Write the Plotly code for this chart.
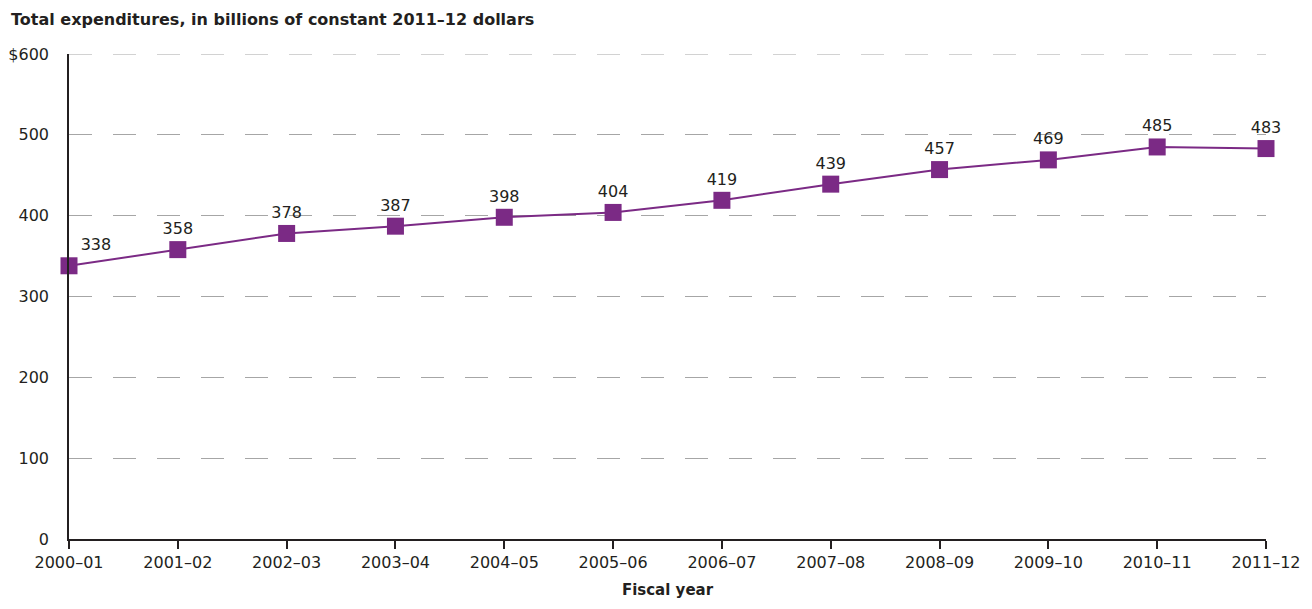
import plotly.graph_objects as go

# Fiscal years and total expenditures (billions of constant 2011-12 dollars)
years = ["2000–01", "2001–02", "2002–03", "2003–04", "2004–05", "2005–06",
         "2006–07", "2007–08", "2008–09", "2009–10", "2010–11", "2011–12"]
expenditures = [338, 358, 378, 387, 398, 404, 419, 439, 457, 469, 485, 483]

y_ticks = [0, 100, 200, 300, 400, 500, 600]
y_tick_labels = ["0", "100", "200", "300", "400", "500", "$600"]

purple = "#7B2A85"
text_color = "#231F20"
grid_color = "#A6A6A6"
font_family = "DejaVu Sans"

x_idx = list(range(len(years)))

fig = go.Figure()
fig.add_trace(go.Scatter(
    x=x_idx,
    y=expenditures,
    mode="lines+markers+text",
    line=dict(color=purple, width=2),
    marker=dict(symbol="square", size=17, color=purple),
    text=[str(v) for v in expenditures],
    textposition=["top right"] + ["top center"] * (len(years) - 1),
    textfont=dict(family=font_family, size=16, color=text_color),
    cliponaxis=False,
    hoverinfo="skip",
    showlegend=False,
))

# top gridline sits on the plot edge, so draw it explicitly
fig.add_shape(
    type="line", xref="paper", yref="y", x0=0, x1=1, y0=y_ticks[-1], y1=y_ticks[-1],
    line=dict(color=grid_color, width=1.2, dash="23px,21px"), layer="below",
)

fig.update_layout(
    width=1312,
    height=609,
    margin=dict(l=69, r=46, t=54, b=70, autoexpand=False),
    plot_bgcolor="white",
    paper_bgcolor="white",
    font=dict(family=font_family, size=16, color=text_color),
    xaxis=dict(
        range=[0, len(years) - 1],
        tickmode="array",
        tickvals=x_idx,
        ticktext=years,
        showgrid=False,
        zeroline=False,
        showline=True,
        linecolor="#231F20",
        linewidth=1.5,
        ticks="outside",
        ticklen=8,
        tickwidth=1.5,
        tickcolor="#231F20",
        tickfont=dict(size=16),
        automargin=False,
        title=dict(text="<b>Fiscal year</b>", font=dict(size=15), standoff=14),
    ),
    yaxis=dict(
        range=[0, 600],
        tickmode="array",
        tickvals=y_ticks,
        ticktext=y_tick_labels,
        showgrid=True,
        gridcolor=grid_color,
        gridwidth=1.2,
        griddash="23px,21px",
        zeroline=False,
        showline=True,
        linecolor="#231F20",
        linewidth=1.5,
        ticks="",
        ticklabelstandoff=15,
        tickfont=dict(size=16),
        automargin=False,
    ),
    annotations=[dict(
        text="<b>Total expenditures, in billions of constant 2011–12 dollars</b>",
        xref="paper", yref="paper", x=0, y=1, xanchor="left", yanchor="bottom",
        xshift=-60, yshift=23, showarrow=False,
        font=dict(size=16, color=text_color, family=font_family),
    )],
)

fig.write_html("out.html")
